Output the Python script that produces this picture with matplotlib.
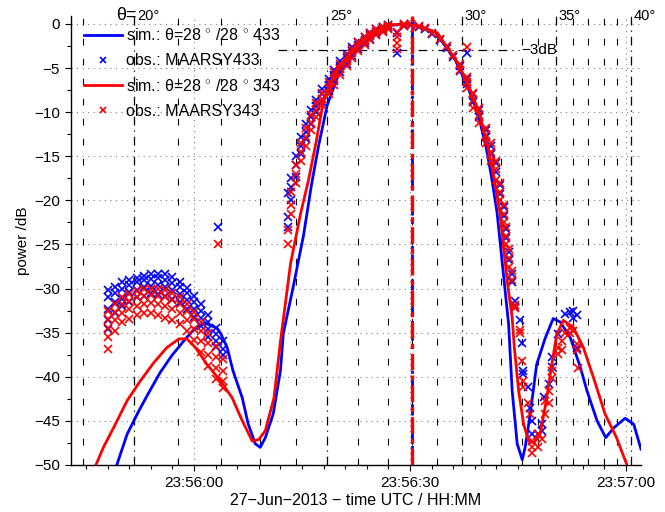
import matplotlib
matplotlib.use('Agg')
import matplotlib.pyplot as plt
import matplotlib.transforms as mtransforms
from matplotlib.ticker import FixedLocator, MultipleLocator

plt.rcParams['font.family'] = ['Liberation Sans', 'DejaVu Sans']
plt.rcParams['mathtext.fontset'] = 'custom'
plt.rcParams['mathtext.rm'] = 'Liberation Sans'
plt.rcParams['axes.unicode_minus'] = True

# ---------------- data (time in s relative to 23:56:00, power in dB) -------------
xtick_pos = [0, 30, 60]
xtick_labels = ['23:56:00', '23:56:30', '23:57:00']

theta_deg = [19, 20, 21, 22, 23, 24, 25, 26, 27, 28, 29, 30,
             31, 32, 33, 34, 35, 36, 37, 38, 39, 40]
theta_time = [-15.4, -8.3, -2.2, 3.8, 9.2, 14.1, 18.5, 22.8, 26.9, 30.3, 33.7, 37.2,
              39.9, 42.7, 45.5, 47.8, 50.3, 52.7, 54.8, 56.9, 58.8, 60.7]

peak_time = 30.3
minus3db_span = [11.7, 45.2]
minus3db_level = -3

sim433_t = [-10.7, -9.3, -7.7, -6.3, -4.7, -3.1, -1.4, 0.0, 1.5, 3.2,
            3.7, 4.6, 5.4, 6.7, 7.5, 8.5, 9.2, 9.9, 11.0, 12.0,
            12.4, 13.8, 15.2, 16.3, 17.3, 18.5, 20.3, 22.5, 24.5, 26.6,
            30.1, 33.5, 36.3, 38.1, 39.5, 40.6, 41.3, 42.1, 43.0, 43.7,
            44.2, 44.9, 45.6, 46.0, 46.7, 47.6, 48.8, 49.9, 50.9, 52.3,
            53.7, 54.6, 56.0, 57.2, 58.3, 59.9, 61.1, 62.1]
sim433_db = [-49.9, -46.5, -43.9, -41.8, -39.5, -37.6, -35.9, -34.6, -33.9, -34.5,
             -35.1, -36.7, -39.3, -42.4, -45.3, -47.6, -48.0, -46.9, -44.2, -39.3,
             -35.1, -29.7, -24.0, -18.3, -13.8, -9.2, -5.2, -2.4, -0.9, -0.2,
             0.0, -0.9, -4.1, -7.3, -10.3, -14.1, -17.2, -21.4, -28.5, -34.0,
             -41.6, -47.6, -49.4, -48.0, -44.3, -38.6, -35.6, -33.4, -33.8, -35.6,
             -39.0, -41.6, -45.0, -46.9, -45.8, -44.7, -45.4, -48.2]

sim343_t = [-13.7, -12.6, -11.2, -9.3, -7.5, -5.6, -3.8, -2.1, -1.0, 0.2,
            1.8, 3.7, 5.3, 6.7, 8.1, 9.0, 9.9, 11.1, 12.0, 13.4,
            14.8, 15.9, 17.0, 18.0, 19.6, 22.1, 24.5, 27.3, 30.1, 33.8,
            36.6, 38.4, 39.8, 40.9, 41.7, 42.5, 43.5, 44.2, 44.5, 45.1,
            45.8, 46.5, 47.2, 48.1, 49.0, 49.7, 50.4, 51.3, 52.7, 54.1,
            55.5, 57.1, 58.7, 60.1]
sim343_db = [-50.1, -48.0, -45.8, -42.7, -40.5, -38.4, -36.7, -35.7, -35.7, -36.7,
             -38.6, -40.5, -42.4, -45.0, -47.3, -47.1, -46.1, -42.4, -36.0, -27.2,
             -21.5, -17.7, -13.2, -8.6, -5.5, -3.0, -1.0, -0.1, 0.0, -1.0,
             -4.4, -7.5, -10.6, -14.3, -17.5, -21.4, -29.1, -33.3, -36.7, -41.6,
             -45.4, -47.3, -47.5, -46.5, -42.4, -38.6, -35.2, -33.6, -34.4, -36.7,
             -40.1, -44.2, -46.9, -49.9]

obs433_t = [-12.0, -11.0, -10.0, -9.0, -8.0, -7.0, -6.0, -5.0, -4.0, -3.0,
            -2.0, -1.0, 0.0, 1.0, 2.0, 3.0, 3.3, 4.0,
            13.1, 13.5, 14.1, 14.8, 15.5, 16.2, 17.0, 17.8, 18.7, 19.5,
            20.3, 21.2, 22.0, 22.8, 23.7, 24.5, 25.3, 26.2, 27.0, 28.2,
            29.2, 30.1, 31.2, 32.1, 33.1, 34.2, 35.2, 36.0, 37.0, 37.9,
            38.8, 39.6, 40.5, 41.2, 41.9, 42.5, 43.0, 43.4, 43.8, 44.2,
            44.6, 45.3, 45.5, 45.7, 46.4, 46.7, 47.0, 47.8, 48.4, 48.6,
            49.3, 49.7, 50.6, 51.6, 52.3, 52.7, 53.2]
obs433_db = [[-30.2, -31.0, -32.3, -33.6, -34.6], [-29.8, -30.5, -31.5, -32.8],
             [-29.3, -30.0, -31.2, -32.0], [-29.0, -29.6, -30.4, -31.5],
             [-28.8, -29.3, -30.2, -31.0], [-28.6, -29.0, -29.8, -30.8],
             [-28.4, -28.9, -29.7, -30.5], [-28.3, -28.8, -29.6, -30.6],
             [-28.4, -29.0, -29.8, -30.8], [-28.7, -29.4, -30.2, -31.2],
             [-29.2, -29.8, -30.6, -31.5], [-29.9, -30.5, -31.3, -32.3],
             [-30.8, -31.5, -32.3, -33.2], [-31.8, -32.5, -33.3, -34.3],
             [-33.0, -33.8, -34.6, -35.5], [-34.5, -35.2, -36.0, -36.6],
             [-23.0], [-36.0, -36.8, -37.5],
             [-19.2, -21.9, -23.0], [-17.5, -18.5, -20.0], [-15.0, -16.0, -17.3],
             [-12.8, -13.8, -14.8], [-11.3, -12.2, -13.0], [-9.8, -10.6, -11.4],
             [-8.6, -9.3, -10.0], [-7.4, -8.0, -8.8], [-6.2, -6.9, -7.6],
             [-5.2, -5.8, -6.5], [-4.2, -4.8, -5.4], [-3.4, -3.9, -4.5],
             [-2.6, -3.1, -3.6], [-2.0, -2.4, -2.9], [-1.5, -1.8, -2.2],
             [-1.0, -1.3, -1.7], [-0.6, -0.9, -1.2], [-0.3, -0.5, -0.8],
             [-0.1, -0.3, -0.5], [-1.0, -3.3],
             [-0.1, -0.2], [-0.1], [-0.3], [-0.6], [-1.1], [-1.8], [-2.7], [-3.7],
             [-4.8, -5.3], [-3.3, -6.2, -6.8],
             [-8.0, -8.8], [-9.8, -10.6], [-12.0, -12.8], [-13.8, -14.8],
             [-15.8, -16.8], [-18.3, -19.3], [-20.8, -21.8], [-23.3, -24.3],
             [-25.8, -26.8], [-28.3, -29.3],
             [-31.4, -32.1], [-33.6], [-36.2], [-39.4, -39.7], [-41.2], [-43.5],
             [-45.0, -46.5], [-46.5], [-45.3, -46.1], [-42.3],
             [-40.8], [-37.8, -38.9], [-35.2], [-32.9], [-32.7], [-32.5, -33.3],
             [-33.0, -36.7]]

obs343_t = [-12.0, -11.0, -10.0, -9.0, -8.0, -7.0, -6.0, -5.0, -4.0, -3.0,
            -2.0, -1.0, 0.0, 1.0, 2.0, 3.0, 3.3, 4.0,
            13.1, 13.5, 14.1, 14.8, 15.5, 16.2, 17.0, 17.8, 18.7, 19.5,
            20.3, 21.2, 22.0, 22.8, 23.7, 24.5, 25.3, 26.2, 27.0, 28.2,
            29.2, 30.1, 31.2, 32.1, 33.1, 34.2, 35.2, 36.0, 37.0, 37.9,
            38.8, 39.6, 40.5, 41.2, 41.9, 42.5, 43.0, 43.4, 43.8, 44.2,
            44.6, 45.3, 45.5, 45.7, 46.4, 46.7, 47.0, 47.8, 48.4, 48.8,
            49.3, 49.7, 50.6, 51.1, 51.6, 52.3, 52.7, 53.2, 53.4]
obs343_db = [[-32.5, -33.5, -34.5, -35.5, -36.8], [-31.8, -32.6, -33.6, -34.8],
             [-31.0, -31.8, -32.8, -33.8], [-30.6, -31.4, -32.3, -33.4],
             [-30.3, -31.0, -32.0, -33.0], [-30.1, -30.8, -31.8, -32.8],
             [-30.0, -30.7, -31.6, -32.8], [-30.0, -30.8, -31.8, -33.0],
             [-30.2, -31.0, -32.0, -33.3], [-30.5, -31.3, -32.3, -33.6],
             [-31.0, -31.8, -32.8, -34.0], [-31.7, -32.5, -33.6, -34.8],
             [-32.6, -33.5, -34.6, -35.8], [-33.8, -34.8, -36.0, -37.2],
             [-35.0, -36.2, -37.5, -38.8], [-36.5, -37.8, -39.0, -40.2],
             [-24.9], [-38.0, -39.3, -40.5, -41.3],
             [-23.4, -24.9], [-19.0, -20.5, -21.5], [-16.0, -17.0, -18.0],
             [-13.5, -14.5, -15.5], [-11.8, -12.8, -13.8], [-10.3, -11.2, -12.0],
             [-9.0, -9.8, -10.6], [-7.8, -8.5, -9.2], [-6.6, -7.3, -8.0],
             [-5.5, -6.2, -6.9], [-4.5, -5.1, -5.8], [-3.6, -4.2, -4.8],
             [-2.8, -3.3, -3.9], [-2.1, -2.6, -3.1], [-1.5, -1.9, -2.4],
             [-1.0, -1.4, -1.8], [-0.6, -0.9, -1.3], [-0.3, -0.6, -0.9],
             [-0.1, -0.3, -0.6], [-0.9, -1.5, -2.2, -2.8],
             [0.0, -0.2], [0.0], [-0.2], [-0.5], [-1.0], [-1.7], [-2.5], [-3.5],
             [-4.6, -5.2], [-2.6, -6.0, -6.6, -7.3],
             [-7.8, -8.6, -9.5], [-9.5, -10.3, -11.2], [-11.8, -12.6, -13.5],
             [-13.5, -14.5, -15.5], [-15.5, -16.5, -17.7], [-18.0, -19.0, -20.0],
             [-20.5, -21.5, -22.5], [-23.0, -24.0, -25.0], [-25.5, -26.5, -27.5],
             [-28.0, -29.0],
             [-31.9, -32.2], [-34.7, -35.0], [-38.2], [-40.5, -41.2], [-43.0],
             [-44.2], [-47.3, -48.0, -48.6], [-46.5, -48.0], [-47.0],
             [-42.7, -44.2], [-41.6, -43.0], [-39.3, -40.1], [-36.7, -37.4],
             [-35.9, -37.0], [-35.0], [-34.5, -35.0], [-34.8], [-36.3, -37.0],
             [-39.0]]

legend_labels = [r'sim.: θ=28 $^{\circ}$ /28 $^{\circ}$ 433', 'obs.: MAARSY433',
                 r'sim.: θ=28 $^{\circ}$ /28 $^{\circ}$ 343', 'obs.: MAARSY343']


def flatten(times, vals):
    xs, ys = [], []
    for t, vv in zip(times, vals):
        for v in vv:
            xs.append(t)
            ys.append(v)
    return xs, ys


# ---------------- figure -------------------------------------------------------
fig = plt.figure(figsize=(6.65, 5.12), dpi=100)
ax = fig.add_axes([0.1068, 0.0918, 0.8571, 0.8770])
ax.set_xlim(-17.1, 62.1)
ax.set_ylim(-50, 0.9)

for s in ['top', 'right']:
    ax.spines[s].set_visible(False)
ax.spines['left'].set_linewidth(1.0)
ax.spines['bottom'].set_linewidth(1.0)

ax.xaxis.set_major_locator(FixedLocator(xtick_pos))
ax.set_xticklabels(xtick_labels)
ax.xaxis.set_minor_locator(MultipleLocator(3))
ax.yaxis.set_major_locator(MultipleLocator(5))
ax.yaxis.set_minor_locator(MultipleLocator(2.5))
ax.tick_params(which='both', direction='out', labelsize=11, width=0.8)
ax.tick_params(which='major', length=4, pad=4)
ax.tick_params(which='minor', length=3)
ax.tick_params(axis='y', labelsize=11)

ax.grid(True, which='major', color='#808080', linestyle=(0, (1, 4)), linewidth=0.8)
ax.set_axisbelow(True)

# theta lines
blend = mtransforms.blended_transform_factory(ax.transData, ax.transAxes)
for d, t in zip(theta_deg, theta_time):
    if d % 5 == 0:
        ax.axvline(t, color='k', lw=0.9, linestyle=(0, (7, 4, 1, 4)), zorder=1.5)
        ax.annotate('%d°' % d, xy=(t, 1.0), xycoords=blend, xytext=(2, 0),
                    textcoords='offset points', ha='left', va='center', fontsize=10.5)
    else:
        ax.axvline(t, color='k', lw=0.8, linestyle=(0, (6, 12)), zorder=1.5)
ax.annotate('θ=', xy=(theta_time[1], 1.0), xycoords=blend, xytext=(1.5, 0),
            textcoords='offset points', ha='right', va='center', fontsize=13)

# -3 dB line
ax.plot(minus3db_span, [minus3db_level] * 2, color='k', lw=0.9,
        linestyle=(0, (7, 4, 1, 4)), zorder=1.5)
ax.text(minus3db_span[1] + 0.2, minus3db_level, '−3dB', ha='left', va='center',
        fontsize=11)

# data
h1, = ax.plot(sim433_t, sim433_db, color='#0000ff', lw=2.0, zorder=3)
x, y = flatten(obs433_t, obs433_db)
h2, = ax.plot(x, y, linestyle='none', marker='x', color='#0000ff', ms=5.5, mew=1.2, zorder=3)
h3, = ax.plot(sim343_t, sim343_db, color='#ff0000', lw=2.0, zorder=3)
x, y = flatten(obs343_t, obs343_db)
h4, = ax.plot(x, y, linestyle='none', marker='x', color='#ff0000', ms=5.5, mew=1.2, zorder=3)

# peak markers
ax.axvline(peak_time, color='#0000ff', lw=2.0, linestyle=(0, (4, 2, 1, 2)), zorder=3.5)
ax.axvline(peak_time, color='#ff0000', lw=2.4, linestyle=(0, (5, 1.5, 1.5, 1.5)), zorder=3.6)

leg = ax.legend([h1, h2, h3, h4], legend_labels, loc='upper left',
                bbox_to_anchor=(0.0228, 0.975), frameon=False, fontsize=11.5,
                handlelength=2.4, handletextpad=0.2, borderpad=0, borderaxespad=0,
                labelspacing=0.62, numpoints=1, markerscale=0.9)

ax.set_xlabel('27−Jun−2013 − time UTC / HH:MM', fontsize=11.5, labelpad=2)
ax.set_ylabel('power /dB', fontsize=11, labelpad=3)

fig.savefig('out.png', dpi=100)
